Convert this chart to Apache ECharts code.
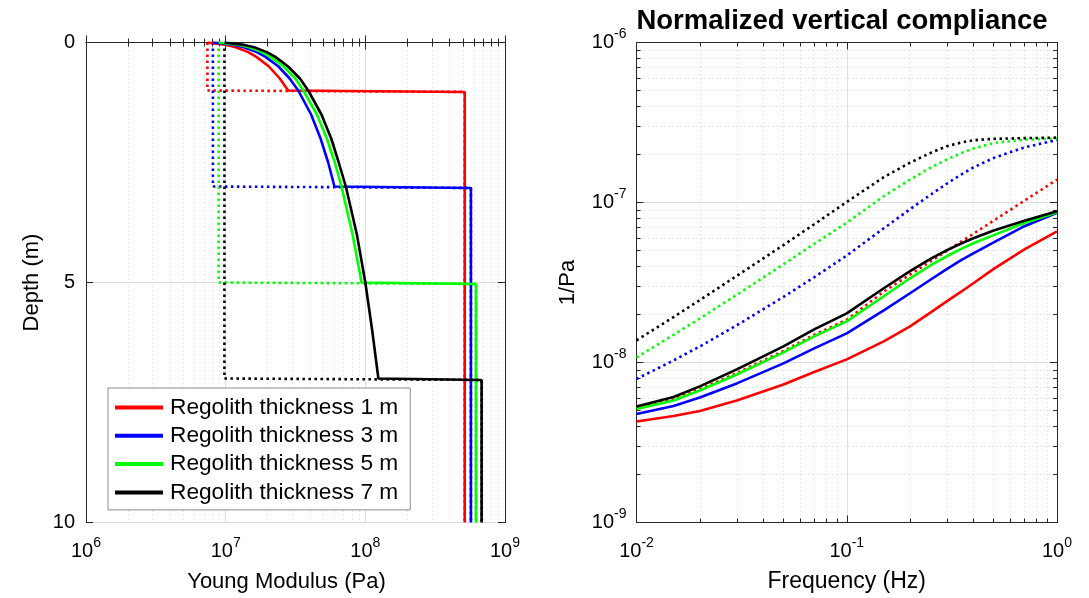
<!DOCTYPE html>
<html><head><meta charset="utf-8">
<script src="https://cdn.jsdelivr.net/npm/echarts@6/dist/echarts.min.js"></script>
<style>html,body{margin:0;padding:0;background:#fff}#c{width:1089px;height:598px}</style>
</head><body><div id="c"></div>
<script>
const FONT = '"Liberation Sans", Arial, Helvetica, sans-serif';

// ---------- Left panel: Young modulus profiles (x = modulus Pa, y = depth m) ----------
const names = ['Regolith thickness 1 m', 'Regolith thickness 3 m', 'Regolith thickness 5 m', 'Regolith thickness 7 m'];
const colors = ['#ff0000', '#0000ff', '#00ff00', '#000000'];

const depth1 = [0, 0.05, 0.1, 0.2, 0.3, 0.5, 0.75, 1, 1.03, 10];
const mod1   = [7.4e6, 1.02e7, 1.18e7, 1.45e7, 1.66e7, 2.04e7, 2.44e7, 2.80e7, 5.15e8, 5.15e8];
const depth3 = [0, 0.05, 0.1, 0.2, 0.3, 0.5, 0.75, 1, 1.5, 2, 2.5, 3, 3.03, 10];
const mod3   = [8.1e6, 1.15e7, 1.35e7, 1.67e7, 1.93e7, 2.39e7, 2.87e7, 3.31e7, 4.09e7, 4.78e7, 5.42e7, 6.01e7, 5.7e8, 5.7e8];
const depth5 = [0, 0.05, 0.1, 0.2, 0.3, 0.5, 0.75, 1, 1.5, 2, 2.5, 3, 4, 5, 5.03, 10];
const mod5   = [8.9e6, 1.25e7, 1.47e7, 1.82e7, 2.1e7, 2.6e7, 3.15e7, 3.6e7, 4.5e7, 5.3e7, 6.05e7, 6.75e7, 8.1e7, 9.4e7, 6.2e8, 6.2e8];
const depth7 = [0, 0.05, 0.1, 0.2, 0.3, 0.5, 0.75, 1, 1.5, 2, 2.5, 3, 4, 5, 6, 7, 7.03, 10];
const mod7   = [9.8e6, 1.36e7, 1.6e7, 1.97e7, 2.27e7, 2.8e7, 3.4e7, 3.9e7, 4.85e7, 5.7e7, 6.45e7, 7.25e7, 8.7e7, 1.0e8, 1.12e8, 1.24e8, 6.8e8, 6.8e8];

// uniform (dotted) profiles
const dotDepth1 = [0, 1, 1.03, 10];
const dotMod1   = [7.4e6, 7.4e6, 5.15e8, 5.15e8];
const dotDepth3 = [0, 3, 3.03, 10];
const dotMod3   = [8.1e6, 8.1e6, 5.7e8, 5.7e8];
const dotDepth5 = [0, 5, 5.03, 10];
const dotMod5   = [8.9e6, 8.9e6, 6.2e8, 6.2e8];
const dotDepth7 = [0, 7, 7.03, 10];
const dotMod7   = [9.8e6, 9.8e6, 6.8e8, 6.8e8];

// ---------- Right panel: normalized vertical compliance ----------
const freq = [0.01, 0.015, 0.02, 0.03, 0.05, 0.07, 0.1, 0.15, 0.2, 0.25, 0.3, 0.35, 0.4, 0.5, 0.7, 1.0];
const comp1 = [4.28e-9, 4.63e-9, 4.98e-9, 5.79e-9, 7.29e-9, 8.73e-9, 1.046e-8, 1.355e-8, 1.68e-8, 2.05e-8, 2.42e-8, 2.77e-8, 3.13e-8, 3.85e-8, 5.10e-8, 6.61e-8];
const comp3 = [4.77e-9, 5.35e-9, 6.05e-9, 7.40e-9, 9.87e-9, 1.225e-8, 1.52e-8, 2.12e-8, 2.71e-8, 3.29e-8, 3.85e-8, 4.36e-8, 4.81e-8, 5.64e-8, 7.11e-8, 8.63e-8];
const comp5 = [5.13e-9, 5.79e-9, 6.69e-9, 8.42e-9, 1.156e-8, 1.456e-8, 1.807e-8, 2.593e-8, 3.36e-8, 4.04e-8, 4.63e-8, 5.13e-8, 5.56e-8, 6.25e-8, 7.45e-8, 8.7e-8];
const comp7 = [5.31e-9, 6.09e-9, 7.09e-9, 9.05e-9, 1.26e-8, 1.61e-8, 2.03e-8, 2.91e-8, 3.72e-8, 4.44e-8, 5.04e-8, 5.54e-8, 5.98e-8, 6.68e-8, 7.69e-8, 8.81e-8];
const dotComp1 = [5.2e-9, 5.9e-9, 6.8e-9, 8.6e-9, 1.18e-8, 1.49e-8, 1.85e-8, 2.77e-8, 3.54e-8, 4.28e-8, 4.99e-8, 5.69e-8, 6.37e-8, 7.71e-8, 1.026e-7, 1.39e-7];
const dotComp3 = [7.89e-9, 1.03e-8, 1.26e-8, 1.708e-8, 2.57e-8, 3.41e-8, 4.66e-8, 6.90e-8, 9.08e-8, 1.117e-7, 1.315e-7, 1.496e-7, 1.655e-7, 1.90e-7, 2.21e-7, 2.46e-7];
const dotComp5 = [1.076e-8, 1.489e-8, 1.884e-8, 2.65e-8, 4.11e-8, 5.51e-8, 7.48e-8, 1.095e-7, 1.39e-7, 1.648e-7, 1.862e-7, 2.036e-7, 2.175e-7, 2.355e-7, 2.47e-7, 2.51e-7];
const dotComp7 = [1.375e-8, 1.923e-8, 2.455e-8, 3.48e-8, 5.42e-8, 7.31e-8, 1.008e-7, 1.44e-7, 1.774e-7, 2.04e-7, 2.25e-7, 2.37e-7, 2.45e-7, 2.50e-7, 2.525e-7, 2.543e-7];

const depthTicks = [0, 5, 10];

// ---------- build ----------
const zipXY = (xs, ys) => xs.map((x, i) => [x, ys[i]]);
const LW = 2.6;
const DOT = [2.5, 3.5];

const supLabel = v => '{b|10}{s|' + Math.round(Math.log10(v)) + '}';
const rich = {
  b: { fontSize: 20, fontFamily: FONT, color: '#000' },
  s: { fontSize: 14, fontFamily: FONT, color: '#000', padding: [0, 0, 16, 0] }
};
const axisLine = { show: true, lineStyle: { color: '#262626', width: 1 } };
const majorGrid = { show: true, lineStyle: { color: '#dedede', width: 1, type: 'solid' } };
const minorGrid = { show: true, lineStyle: { color: '#cfcfcf', width: 1, type: [1, 3] } };
const tick = { show: true, inside: true, length: 7, lineStyle: { color: '#262626' } };
const minorTick = { show: true, splitNumber: 9, length: 4, lineStyle: { color: '#262626' } };
const nameStyle = { fontSize: 22, fontFamily: FONT, color: '#000' };

function logAxis(grid, pos, min, max, showLabel, name, gap, grids) {
  return {
    type: 'log', logBase: 10, gridIndex: grid, position: pos, min, max, interval: 1,
    axisLine, axisTick: tick,
    minorTick: Object.assign({}, minorTick),
    splitLine: grids ? majorGrid : { show: false },
    minorSplitLine: grids ? minorGrid : { show: false },
    axisLabel: showLabel ? { formatter: supLabel, rich, margin: 12 } : { show: false },
    name: name || '', nameLocation: 'middle', nameGap: gap || 0, nameTextStyle: Object.assign({}, nameStyle)
  };
}

const xAxis = [
  logAxis(0, 'bottom', 1e6, 1e9, true, 'Young Modulus (Pa)', 48, true),
  logAxis(0, 'top', 1e6, 1e9, false, '', 0, false),
  logAxis(1, 'bottom', 1e-2, 1e0, true, 'Frequency (Hz)', 48, true),
  logAxis(1, 'top', 1e-2, 1e0, false, '', 0, false)
];
xAxis[0].axisLabel.margin = 14; xAxis[2].axisLabel.margin = 14;
xAxis[0].nameTextStyle.padding = [0, 18, 0, 0];
xAxis[2].nameTextStyle.fontSize = 23;

const yAxis = [
  {
    type: 'value', gridIndex: 0, position: 'left', min: depthTicks[0], max: depthTicks[2], interval: depthTicks[1] - depthTicks[0], inverse: true,
    axisLine, axisTick: tick, splitLine: majorGrid,
    axisLabel: { fontSize: 20, fontFamily: FONT, color: '#000', margin: 11 },
    name: 'Depth (m)', nameLocation: 'middle', nameGap: 43, nameTextStyle: nameStyle
  },
  {
    type: 'value', gridIndex: 0, position: 'right', min: 0, max: 10, interval: 5, inverse: true,
    axisLine, axisTick: tick, splitLine: { show: false }, axisLabel: { show: false }
  },
  logAxis(1, 'left', 1e-9, 1e-6, true, '1/Pa', 58, true),
  logAxis(1, 'right', 1e-9, 1e-6, false, '', 0, false)
];
yAxis[2].axisLabel.margin = 10;

const series = [];
const leftDot = [[dotMod1, dotDepth1], [dotMod3, dotDepth3], [dotMod5, dotDepth5], [dotMod7, dotDepth7]];
const leftSol = [[mod1, depth1], [mod3, depth3], [mod5, depth5], [mod7, depth7]];
leftDot.forEach((d, i) => series.push({
  type: 'line', name: 'uniform ' + i, xAxisIndex: 0, yAxisIndex: 0, data: zipXY(d[0], d[1]),
  showSymbol: false, symbol: 'none', color: colors[i], lineStyle: { width: LW, type: DOT, color: colors[i] }, silent: true, z: 2
}));
leftSol.forEach((d, i) => series.push({
  type: 'line', name: names[i], xAxisIndex: 0, yAxisIndex: 0, data: zipXY(d[0], d[1]),
  showSymbol: false, symbol: 'none', color: colors[i], lineStyle: { width: LW, color: colors[i] }, silent: true, z: 3
}));
const rightDot = [dotComp1, dotComp3, dotComp5, dotComp7];
const rightSol = [comp1, comp3, comp5, comp7];
rightDot.forEach((d, i) => series.push({
  type: 'line', name: 'uniform c' + i, xAxisIndex: 2, yAxisIndex: 2, data: zipXY(freq, d),
  showSymbol: false, symbol: 'none', smooth: false, color: colors[i], lineStyle: { width: LW, type: DOT, color: colors[i] }, silent: true, z: 2
}));
rightSol.forEach((d, i) => series.push({
  type: 'line', name: names[i], xAxisIndex: 2, yAxisIndex: 2, data: zipXY(freq, d),
  showSymbol: false, symbol: 'none', smooth: false, color: colors[i], lineStyle: { width: LW, color: colors[i] }, silent: true, z: 3
}));

const chart = echarts.init(document.getElementById('c'), null, { renderer: 'canvas' });
chart.setOption({
  animation: false,
  backgroundColor: '#fff',
  grid: [
    { left: 86, top: 42.5, width: 419, height: 480, outerBoundsMode: 'none', containLabel: false },
    { left: 636.5, top: 42.5, width: 420.5, height: 480, outerBoundsMode: 'none', containLabel: false }
  ],
  xAxis, yAxis, series,
  legend: {
    data: names, orient: 'vertical', left: 108, top: 388, icon: 'rect', itemWidth: 48, itemHeight: 4,
    itemGap: 5.3, padding: [8, 12, 6, 7], backgroundColor: '#fff', borderColor: '#8c8c8c', borderWidth: 1,
    textStyle: { fontSize: 22.7, fontFamily: FONT, color: '#000', lineHeight: 22, padding: [0, 0, 0, 2] },
    selectedMode: false, z: 10
  },
  graphic: [{
    type: 'text', x: 842, y: 21, z: 20,
    style: { text: 'Normalized vertical compliance', font: 'bold 27.5px ' + FONT, fill: '#000', align: 'center', verticalAlign: 'middle' }
  }]
});
</script></body></html>
